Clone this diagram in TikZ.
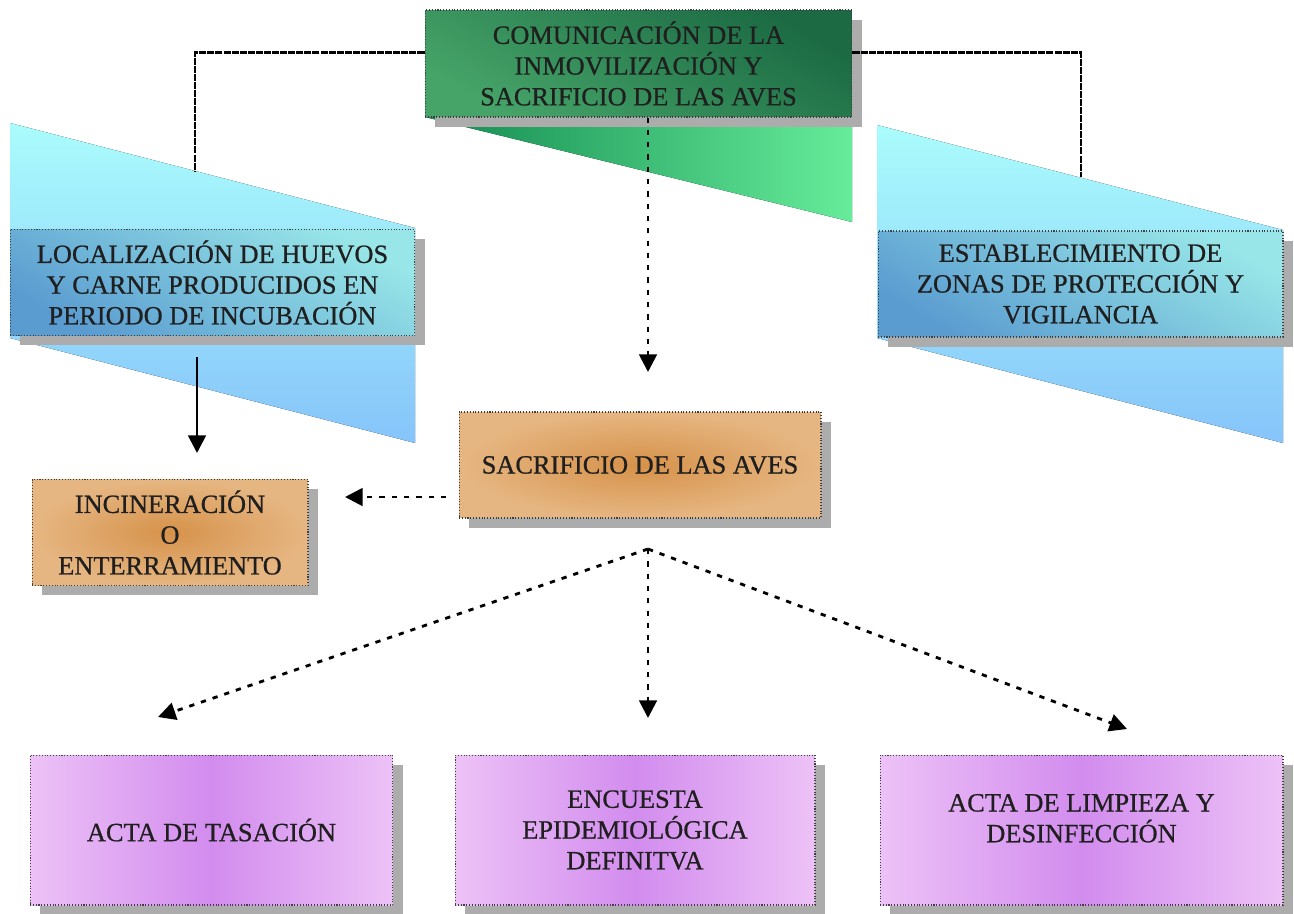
\documentclass[tikz,border=0pt]{standalone}
\usepackage{fontspec}
\setmainfont{Liberation Serif}
\newfontfamily\boxfont{Liberation Serif}[FakeBold=0.7]
\usetikzlibrary{calc}
\usetikzlibrary{positioning}
\usetikzlibrary{shadows}
\usetikzlibrary{arrows.meta}
\definecolor{greenDark}{HTML}{1B6A43}
\definecolor{greenMid}{HTML}{46A468}
\definecolor{greenLeft}{HTML}{138A50}
\definecolor{greenLight}{HTML}{66EC9A}
\definecolor{cyanTop}{HTML}{AAFCFC}
\definecolor{cyanBot}{HTML}{86C4FA}
\definecolor{blueLight}{HTML}{98E6E8}
\definecolor{blueDark}{HTML}{5A9CD0}
\definecolor{orangeIn}{HTML}{D6924A}
\definecolor{orangeOut}{HTML}{E6B682}
\definecolor{lilaSide}{HTML}{EDC2F7}
\definecolor{lilaMid}{HTML}{D28CEE}
\tikzstyle{box} = [draw=black!75, densely dotted, line width=0.6pt, align=center, text=black!88, font=\boxfont\fontsize{15}{17.5}\selectfont, drop shadow={shadow xshift=5.5pt, shadow yshift=-5.5pt, fill=gray!65, opacity=1}]
\tikzstyle{greenbox} = [box, minimum width=8.54cm, minimum height=2.14cm, top color=greenDark, bottom color=greenMid, shading angle=-30]
\tikzstyle{bluebox} = [box, minimum width=8.1cm, minimum height=2.12cm, top color=blueLight, bottom color=blueDark, shading angle=-30]
\tikzstyle{orangebox} = [box, minimum height=2.12cm, shading=radial, inner color=orangeIn, outer color=orangeOut]
\tikzstyle{lilabox} = [box, minimum height=3cm, left color=lilaSide, right color=lilaSide, middle color=lilaMid]
\tikzstyle{link} = [line width=1.6pt, dash pattern=on 4pt off 0.6pt]
\tikzstyle{dasharrow} = [line width=1.6pt, dash pattern=on 3pt off 4pt, -{Triangle[width=10pt,length=10pt]}]
\tikzstyle{solidarrow} = [line width=1.6pt, -{Triangle[width=10pt,length=10pt]}]

\begin{document}
\begin{tikzpicture}[x=0.02cm, y=-0.02cm]
\useasboundingbox (0,0) rectangle (1294,913);

% planes behind the boxes
\fill[top color=cyanTop, bottom color=cyanBot] (10,123) -- (415,228) -- (415,443) -- (10,338) -- cycle;
\fill[top color=cyanTop, bottom color=cyanBot] (877,125) -- (1283,230) -- (1283,443) -- (877,338) -- cycle;
\fill[left color=greenLeft, right color=greenLight] (425,117) -- (852,117) -- (852,222) -- cycle;

\node[greenbox] (comunic) at (638.5,63.5) {COMUNICACIÓN DE LA\\INMOVILIZACIÓN Y\\SACRIFICIO DE LAS AVES};
\node[bluebox] (loc) at (212.5,282.5) {LOCALIZACIÓN DE HUEVOS\\Y CARNE PRODUCIDOS EN\\PERIODO DE INCUBACIÓN};
\node[bluebox] (estab) at ($(loc)+(868,1.5)$) {ESTABLECIMIENTO DE\\ZONAS DE PROTECCIÓN Y\\VIGILANCIA};
\node[orangebox, minimum width=7.24cm] (sacrif) at (640,465) {SACRIFICIO DE LAS AVES};
\node[orangebox, minimum width=5.52cm] (incin) at (170,532.5) {INCINERACIÓN\\O\\ENTERRAMIENTO};
\node[lilabox, minimum width=7.26cm] (tasac) at (211.5,830) {ACTA DE TASACIÓN};
\node[lilabox, minimum width=7.2cm] (encues) at (635,830) {ENCUESTA\\EPIDEMIOLÓGICA\\DEFINITVA};
\node[lilabox, minimum width=8.06cm] (limpie) at (1081.5,830) {ACTA DE LIMPIEZA Y\\DESINFECCIÓN\\[-4pt]};

% free ends of the connectors
\coordinate (locTop) at (195,171);
\coordinate (estTop) at (1081,177);
\coordinate (sacTop) at (648,372);
\coordinate (incTop) at (197,453);
\coordinate (incRight) at (345,497);
\coordinate (fan) at (648,549);
\coordinate (tasTop) at (158,717);
\coordinate (encTop) at (648,718);
\coordinate (limTop) at (1127,729);

\draw[link] ($(comunic.north west)!0.4!(comunic.south west)$) -| (locTop);
\draw[link] ($(comunic.north east)!0.4!(comunic.south east)$) -| (estTop);
\draw[dasharrow] (comunic.south -| sacTop) -- (sacTop);
\draw[solidarrow, shorten <=12pt] (loc.south -| incTop) -- (incTop);
\draw[dasharrow, shorten <=7pt] (sacrif.west |- incRight) -- (incRight);
\draw[dasharrow] (fan) -- (tasTop);
\draw[dasharrow] (fan) -- (encTop);
\draw[dasharrow] (fan) -- (limTop);
\end{tikzpicture}
\end{document}
